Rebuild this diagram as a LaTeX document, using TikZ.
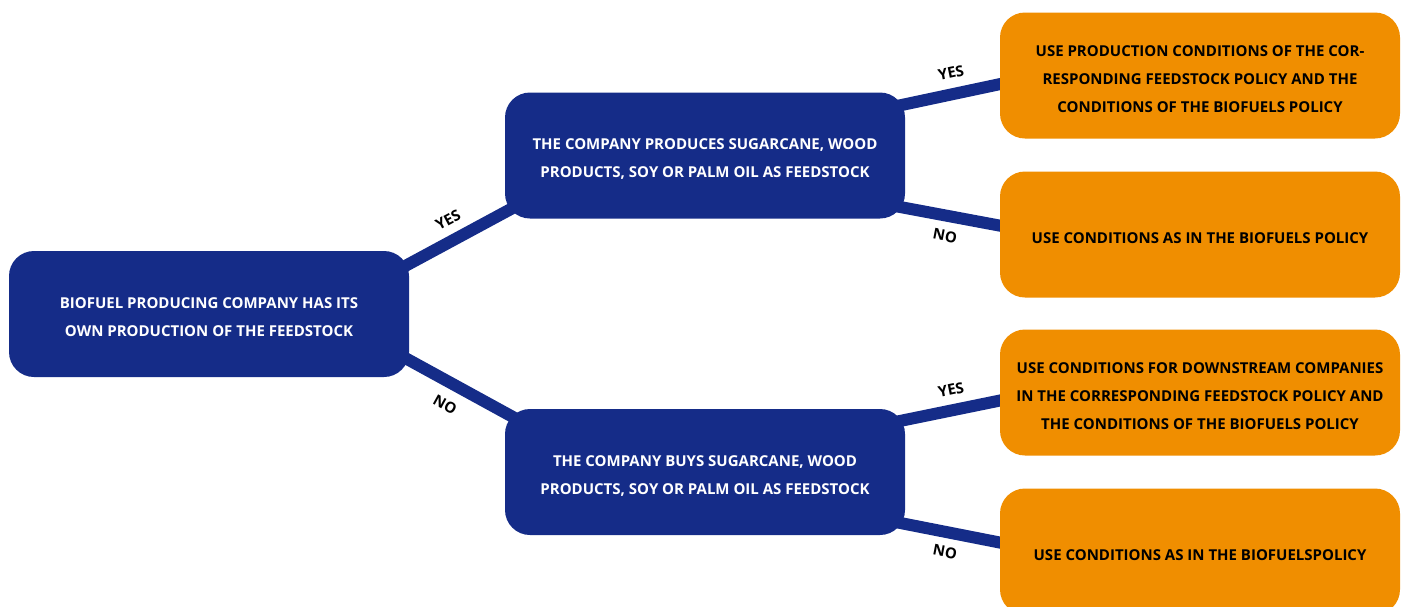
\documentclass[tikz,border=0pt]{standalone}
\usepackage{fontspec}
\setmainfont{Open Sans}
\usetikzlibrary{calc,backgrounds}
\definecolor{navy}{RGB}{21,44,136}
\definecolor{amber}{RGB}{240,142,0}
\newcommand{\mystrut}{\rule{0pt}{18pt}}
\begin{document}
\begin{tikzpicture}[x=1pt,y=-1pt,
  box/.style={rounded corners=25pt,minimum width=400pt,minimum height=126pt,
    inner sep=0pt,align=center,font=\fontsize{15}{28}\selectfont\bfseries},
  bluebox/.style={box,fill=navy,text=white},
  orbox/.style={box,fill=amber,text=black},
  link/.style={draw=navy,line width=12pt},
  lab/.style={font=\fontsize{15}{16}\selectfont\bfseries,inner sep=0pt}]
\useasboundingbox (0,0) rectangle (1407,606);
\path
  (209,314) node[bluebox] (L) {\mystrut BIOFUEL PRODUCING COMPANY HAS ITS\\OWN PRODUCTION OF THE FEEDSTOCK}
  (705,155.5) node[bluebox] (T) {\mystrut THE COMPANY PRODUCES SUGARCANE, WOOD\\PRODUCTS, SOY OR PALM OIL AS FEEDSTOCK}
  (705,472) node[bluebox] (B) {\mystrut THE COMPANY BUYS SUGARCANE, WOOD\\PRODUCTS, SOY OR PALM OIL AS FEEDSTOCK}
  (1200,75.5) node[orbox] (O1) {\mystrut USE PRODUCTION CONDITIONS OF THE COR-\\RESPONDING FEEDSTOCK POLICY AND THE\\CONDITIONS OF THE BIOFUELS POLICY}
  (1200,234.5) node[orbox] (O2) {\mystrut USE CONDITIONS AS IN THE BIOFUELS POLICY}
  (1200,392.5) node[orbox] (O3) {\mystrut USE CONDITIONS FOR DOWNSTREAM COMPANIES\\IN THE CORRESPONDING FEEDSTOCK POLICY AND\\THE CONDITIONS OF THE BIOFUELS POLICY}
  (1200,551.5) node[orbox] (O4) {\mystrut USE CONDITIONS AS IN THE BIOFUELSPOLICY};
\begin{scope}[on background layer]
  \draw[link] ($(L.east)+(-14,-42.6)$) -- ($(T.west)+(20,46)$);
  \draw[link] ($(L.east)+(-14,38.5)$) -- ($(B.west)+(20,-48.5)$);
  \draw[link] ($(T.east)+(-20,-47)$) -- ($(O1.west)+(10,6.5)$);
  \draw[link] ($(T.east)+(-20,48.7)$) -- ($(O2.west)+(10,-7)$);
  \draw[link] ($(B.east)+(-20,-48)$) -- ($(O3.west)+(10,6)$);
  \draw[link] ($(B.east)+(-20,48)$) -- ($(O4.west)+(10,-7)$);
\end{scope}
\node[lab,rotate=28] (y1) at (448,220) {YES};
\node[lab,rotate=-29] (n1) at (445,405) {NO};
\node[lab,rotate=11.5] (y2) at (951,73) {YES};
\node[lab,rotate=-11] (n2) at (945,236) {NO};
\node[lab,rotate=11.5] (y3) at (951,390) {YES};
\node[lab,rotate=-11] (n3) at (945,552) {NO};
\end{tikzpicture}
\end{document}
